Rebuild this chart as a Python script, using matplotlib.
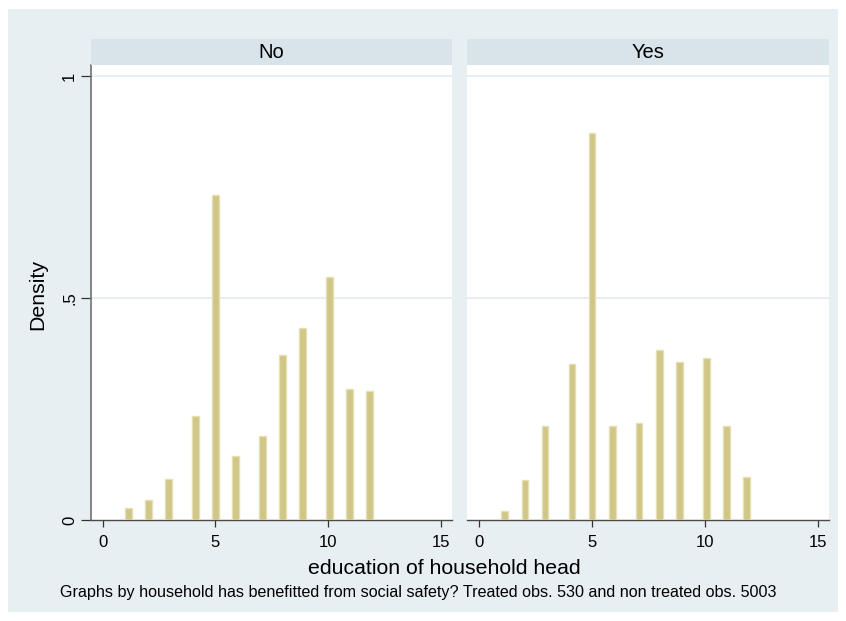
import numpy as np
import matplotlib
matplotlib.use("Agg")
import matplotlib.pyplot as plt
from matplotlib.patches import Rectangle

plt.rcParams['font.family'] = ['Liberation Sans', 'DejaVu Sans']

# Education of household head (years) and histogram densities per group
edu_levels = [1, 2, 3, 4, 5, 6, 7, 8, 9, 10, 11, 12]
density_no = [0.028, 0.045, 0.092, 0.234, 0.733, 0.144, 0.189, 0.372, 0.432, 0.547, 0.294, 0.290]
density_yes = [0.021, 0.090, 0.212, 0.351, 0.871, 0.212, 0.218, 0.382, 0.357, 0.364, 0.212, 0.096]
panel_titles = ["No", "Yes"]
x_ticks = [0, 5, 10, 15]
y_ticks = [0, 0.5, 1]
y_ticklabels = ["0", ".5", "1"]
n_bins = 37
caption = ("Graphs by household has benefitted from social safety? "
           "Treated obs. 530 and non treated obs. 5003")

W, H = 846, 621
fig = plt.figure(figsize=(W / 100, H / 100), dpi=100, facecolor="white")

BG = "#e8eff2"
STRIP = "#d8e4ea"
GRID = "#e4edf0"
FILL = "#cfc687"
EDGE = "#e6dfb0"

# outer graph region
fig.patches.append(Rectangle((8 / W, 1 - 612 / H), 830 / W, 603 / H,
                             transform=fig.transFigure, facecolor=BG,
                             edgecolor="none", zorder=-10))


def px_rect(x0, y0, x1, y1):
    return [x0 / W, 1 - y1 / H, (x1 - x0) / W, (y1 - y0) / H]


edges = np.linspace(min(edu_levels), max(edu_levels), n_bins + 1)
panels = [(91, 452, density_no), (467, 829, density_yes)]

for i, (x0, x1, dens) in enumerate(panels):
    ax = fig.add_axes(px_rect(x0, 65, x1, 520))
    ax.set_facecolor("white")
    ax.hist(edu_levels, bins=edges, weights=dens, color=FILL,
            edgecolor=EDGE, linewidth=1.0, zorder=3)
    ax.set_xlim(-0.52, 15.5)
    ax.set_ylim(0, 1.025)
    for yv in (0.5, 1.0):
        ax.axhline(yv, color=GRID, lw=1.3, zorder=1)
    for s in ("top", "right"):
        ax.spines[s].set_visible(False)
    ax.spines["bottom"].set_color("#4a4a4a")
    ax.spines["bottom"].set_linewidth(1.0)
    ax.set_xticks(x_ticks)
    ax.set_xticklabels([str(t) for t in x_ticks], fontsize=12)
    ax.tick_params(axis="x", length=5, width=0.9, color="#333333", pad=6)
    if i == 0:
        ax.spines["left"].set_color("#707070")
        ax.spines["left"].set_linewidth(1.2)
        ax.set_yticks(y_ticks)
        ax.set_yticklabels(y_ticklabels, fontsize=12, rotation=90, va="center")
        ax.tick_params(axis="y", length=7, width=0.9, color="#333333", pad=3)
    else:
        ax.spines["left"].set_visible(False)
        ax.set_yticks([])

    # strip with panel title
    sax = fig.add_axes(px_rect(x0, 39, x1, 65))
    sax.set_facecolor(STRIP)
    sax.set_xticks([])
    sax.set_yticks([])
    for s in sax.spines.values():
        s.set_visible(False)
    sax.text(0.5, 0.5, panel_titles[i], ha="center", va="center",
             fontsize=14.5, transform=sax.transAxes)

fig.text(38 / W, 1 - 294 / H, "Density", rotation=90, ha="center",
         va="center", fontsize=15.3)
fig.text(444 / W, 1 - 569 / H, "education of household head", ha="center",
         va="center", fontsize=15.3)
fig.text(418 / W, 1 - 592 / H, caption, ha="center", va="center",
         fontsize=11.6)

fig.savefig("out.png", dpi=100, facecolor="white")
